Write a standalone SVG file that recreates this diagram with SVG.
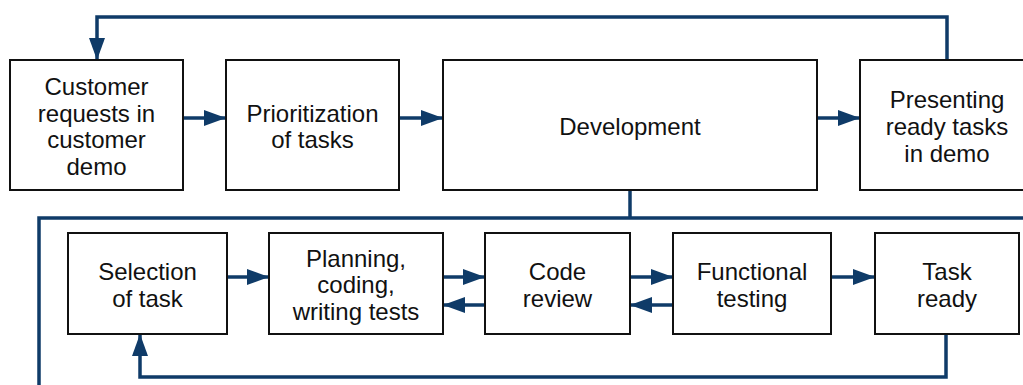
<svg xmlns="http://www.w3.org/2000/svg" width="1023" height="385" viewBox="0 0 1023 385">
  <style>
    .box { fill: #ffffff; stroke: #111111; stroke-width: 2; }
    .lbl { font-family: "Liberation Sans", Arial, sans-serif; font-size: 24px; fill: #111111; text-anchor: middle; }
    .flow { fill: none; stroke: #0f3b68; stroke-width: 3.5; stroke-linejoin: miter; }
  </style>
  <defs>
    <marker id="head" markerUnits="userSpaceOnUse" markerWidth="22" markerHeight="16" refX="22" refY="8" orient="auto">
      <path d="M0,0 L22,8 L0,16 Z" fill="#0f3b68"/>
    </marker>
  </defs>
  <rect width="1023" height="385" fill="#ffffff"/>

  <!-- connectors -->
  <g id="connectors">
    <!-- feedback loop from demo back to customer requests -->
    <polyline class="flow" points="947,60 947,17 97,17 97,60" marker-end="url(#head)"/>
    <line class="flow" x1="183" y1="118" x2="226" y2="118" marker-end="url(#head)"/>
    <line class="flow" x1="399" y1="118" x2="443" y2="118" marker-end="url(#head)"/>
    <line class="flow" x1="817" y1="118" x2="860" y2="118" marker-end="url(#head)"/>
    <!-- development expands into the inner cycle -->
    <line class="flow" x1="630" y1="190" x2="630" y2="218"/>
    <polyline class="flow" points="1023,218 39,218 39,385"/>
    <!-- inner cycle -->
    <line class="flow" x1="227" y1="277" x2="269" y2="277" marker-end="url(#head)"/>
    <line class="flow" x1="443" y1="277" x2="485" y2="277" marker-end="url(#head)"/>
    <line class="flow" x1="485" y1="305" x2="443" y2="305" marker-end="url(#head)"/>
    <line class="flow" x1="630" y1="277" x2="673" y2="277" marker-end="url(#head)"/>
    <line class="flow" x1="673" y1="305" x2="630" y2="305" marker-end="url(#head)"/>
    <line class="flow" x1="831" y1="277" x2="875" y2="277" marker-end="url(#head)"/>
    <polyline class="flow" points="946,334 946,377 140,377 140,334" marker-end="url(#head)"/>
  </g>

  <!-- outer process -->
  <g id="customer-requests">
    <rect class="box" x="10" y="60" width="173" height="130"/>
    <text class="lbl" x="96.5" y="95">Customer</text>
    <text class="lbl" x="96.5" y="122">requests in</text>
    <text class="lbl" x="96.5" y="148">customer</text>
    <text class="lbl" x="96.5" y="175">demo</text>
  </g>
  <g id="prioritization">
    <rect class="box" x="226" y="60" width="173" height="130"/>
    <text class="lbl" x="312.5" y="122">Prioritization</text>
    <text class="lbl" x="312.5" y="148">of tasks</text>
  </g>
  <g id="development">
    <rect class="box" x="443" y="60" width="374" height="130"/>
    <text class="lbl" x="630" y="135">Development</text>
  </g>
  <g id="presenting">
    <rect class="box" x="860" y="60" width="174" height="130"/>
    <text class="lbl" x="947" y="108">Presenting</text>
    <text class="lbl" x="947" y="135">ready tasks</text>
    <text class="lbl" x="947" y="162">in demo</text>
  </g>

  <!-- inner cycle -->
  <g id="selection">
    <rect class="box" x="68" y="233" width="159" height="101"/>
    <text class="lbl" x="147.5" y="280">Selection</text>
    <text class="lbl" x="147.5" y="307">of task</text>
  </g>
  <g id="planning">
    <rect class="box" x="269" y="233" width="174" height="101"/>
    <text class="lbl" x="356" y="267">Planning,</text>
    <text class="lbl" x="356" y="293">coding,</text>
    <text class="lbl" x="356" y="320">writing tests</text>
  </g>
  <g id="code-review">
    <rect class="box" x="485" y="233" width="145" height="101"/>
    <text class="lbl" x="557.5" y="280">Code</text>
    <text class="lbl" x="557.5" y="307">review</text>
  </g>
  <g id="functional-testing">
    <rect class="box" x="673" y="233" width="158" height="101"/>
    <text class="lbl" x="752" y="280">Functional</text>
    <text class="lbl" x="752" y="307">testing</text>
  </g>
  <g id="task-ready">
    <rect class="box" x="875" y="233" width="144" height="101"/>
    <text class="lbl" x="947" y="280">Task</text>
    <text class="lbl" x="947" y="307">ready</text>
  </g>
</svg>
